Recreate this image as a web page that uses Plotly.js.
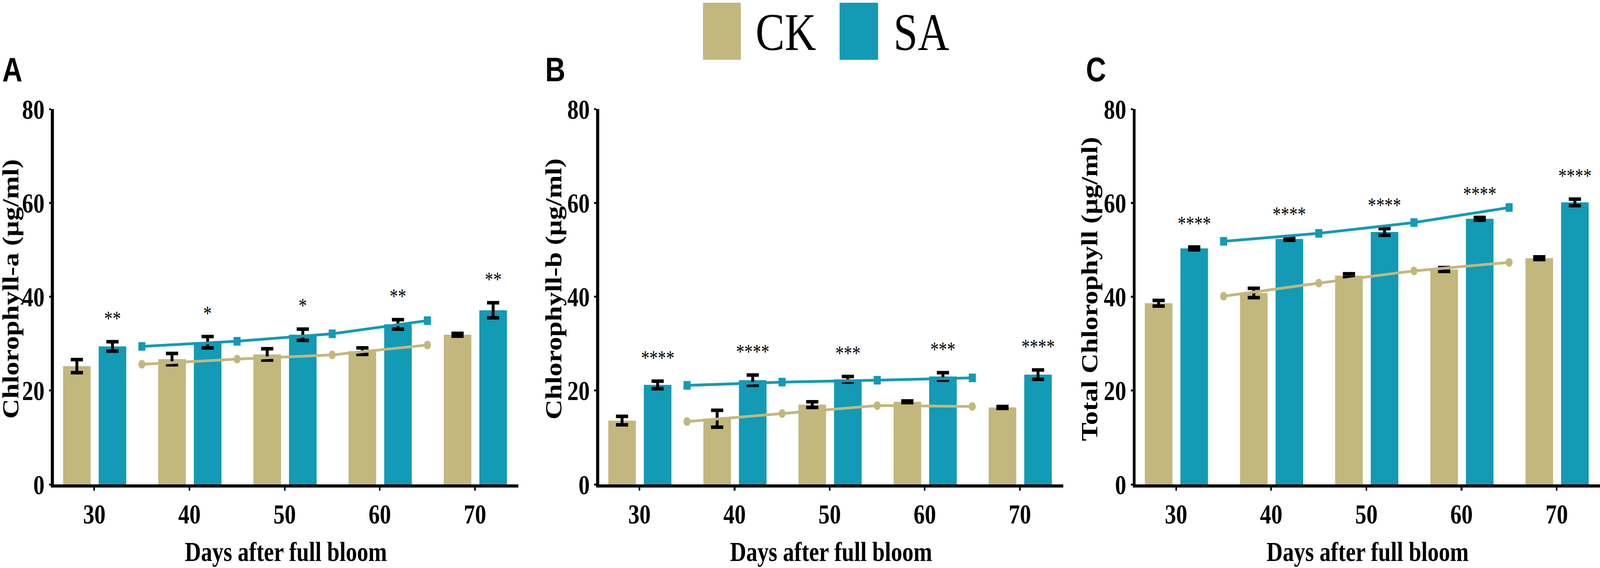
<!DOCTYPE html>
<html>
<head>
<meta charset="utf-8">
<script src="https://cdn.plot.ly/plotly-3.0.1.min.js"></script>
<style>
  html, body { margin: 0; padding: 0; background: #fff; overflow: hidden; }
  #chart { width: 4989px; height: 1454px; transform-origin: 0 0; }
</style>
</head>
<body>
<div id="chart"></div>
<script>
var days = [30, 40, 50, 60, 70];
var trendDays = [35, 45, 55, 65];
var groupNames = ['CK', 'SA'];

// Chlorophyll-a
var chlA_CK = [25.2, 26.7, 27.7, 28.4, 31.9];
var chlA_CK_err = [1.4, 1.2, 1.2, 0.7, 0.3];
var chlA_SA = [29.4, 30.3, 31.9, 34.1, 37.1];
var chlA_SA_err = [1.0, 1.2, 1.2, 1.0, 1.6];
var chlA_sig = ['**', '*', '*', '**', '**'];
var chlA_CK_trend = [25.6, 26.7, 27.6, 29.7];
var chlA_SA_trend = [29.4, 30.5, 32.1, 34.9];

// Chlorophyll-b
var chlB_CK = [13.6, 14.0, 17.0, 17.6, 16.4];
var chlB_CK_err = [0.9, 1.8, 0.6, 0.2, 0.2];
var chlB_SA = [21.2, 22.2, 22.4, 23.0, 23.4];
var chlB_SA_err = [0.8, 1.1, 0.6, 0.8, 1.0];
var chlB_sig = ['****', '****', '***', '***', '****'];
var chlB_CK_trend = [13.4, 15.1, 16.8, 16.6];
var chlB_SA_trend = [21.1, 21.8, 22.2, 22.7];

// Total chlorophyll
var chlT_CK = [38.6, 40.8, 44.5, 45.8, 48.2];
var chlT_CK_err = [0.6, 1.0, 0.4, 0.4, 0.3];
var chlT_SA = [50.3, 52.3, 53.8, 56.6, 60.1];
var chlT_SA_err = [0.3, 0.3, 0.7, 0.3, 0.7];
var chlT_sig = ['****', '****', '****', '****', '****'];
var chlT_CK_trend = [40.1, 42.9, 45.5, 47.3];
var chlT_SA_trend = [51.8, 53.5, 55.8, 59.0];

var yTicks = [0, 20, 40, 60, 80];

var CK_COLOR = '#C2B77D';
var SA_COLOR = '#139AB5';
var SERIF = 'Liberation Serif, Times New Roman, serif';
var SANS = 'Liberation Sans, Arial, sans-serif';

// figure is drawn at 4989 x 1454 and then squeezed into the real window
var W = 4989, H = 1454;
var BAR_W = 2.9;

var chartDiv = document.getElementById('chart');
var sx = (window.innerWidth || W) / W, sy = (window.innerHeight || H) / H;
chartDiv.style.transform = 'scale(' + sx + ',' + sy + ')';

function Panel(n, letter, title, ck, ckErr, sa, saErr, sig, ckTrend, saTrend) {
    this.xref = n === 1 ? 'x' : 'x' + n;
    this.yref = n === 1 ? 'y' : 'y' + n;
    this.letter = letter;
    this.title = title;
    this.ck = ck; this.ckErr = ckErr;
    this.sa = sa; this.saErr = saErr;
    this.sig = sig;
    this.ckTrend = ckTrend; this.saTrend = saTrend;
}

Panel.prototype.traces = function () {
    var errStyle = { type: 'data', visible: true, color: '#000', thickness: 9, width: 19 };
    return [
        {
            type: 'bar', name: groupNames[0], x: days, y: this.ck,
            width: BAR_W, offset: -3.28,
            marker: { color: CK_COLOR, line: { width: 0 } },
            error_y: Object.assign({ array: this.ckErr }, errStyle),
            xaxis: this.xref, yaxis: this.yref, showlegend: false
        },
        {
            type: 'bar', name: groupNames[1], x: days, y: this.sa,
            width: BAR_W, offset: 0.46,
            marker: { color: SA_COLOR, line: { width: 0 } },
            error_y: Object.assign({ array: this.saErr }, errStyle),
            xaxis: this.xref, yaxis: this.yref, showlegend: false
        },
        {
            type: 'scatter', mode: 'lines+markers', x: trendDays, y: this.ckTrend,
            line: { color: CK_COLOR, width: 7 },
            marker: { color: CK_COLOR, symbol: 'circle', size: 22 },
            xaxis: this.xref, yaxis: this.yref, showlegend: false
        },
        {
            type: 'scatter', mode: 'lines+markers', x: trendDays, y: this.saTrend,
            line: { color: SA_COLOR, width: 7 },
            marker: { color: SA_COLOR, symbol: 'square', size: 22 },
            xaxis: this.xref, yaxis: this.yref, showlegend: false
        }
    ];
};

// significance stars sit a fixed distance above each SA error bar
Panel.prototype.starNotes = function () {
    var notes = [];
    for (var i = 0; i < days.length; i++) {
        notes.push({
            xref: this.xref, yref: this.yref,
            x: days[i] + 0.46 + BAR_W / 2, y: this.sa[i] + this.saErr[i],
            text: this.sig[i], showarrow: false,
            xanchor: 'center', yanchor: 'bottom', yshift: 29,
            font: { family: SERIF, size: 52, color: '#000' }
        });
    }
    return notes;
};

var panels = [
    new Panel(1, 'A', 'Chlorophyll-a (µg/ml)', chlA_CK, chlA_CK_err, chlA_SA, chlA_SA_err, chlA_sig, chlA_CK_trend, chlA_SA_trend),
    new Panel(2, 'B', 'Chlorophyll-b (µg/ml)', chlB_CK, chlB_CK_err, chlB_SA, chlB_SA_err, chlB_sig, chlB_CK_trend, chlB_SA_trend),
    new Panel(3, 'C', 'Total Chlorophyll (µg/ml)', chlT_CK, chlT_CK_err, chlT_SA, chlT_SA_err, chlT_sig, chlT_CK_trend, chlT_SA_trend)
];

// panel placement, in pixels of the figure
var xDomains = [[167.9, 1616], [1867.9, 3315], [3540.9, 4989]];
var yDomain = [1 - 1240 / H, 1 - 279 / H];
var yTitleX = [34, 1727, 3399];
var letterX = [5, 1698, 3384];

var data = [];
var annotations = [];
var layout = {
    width: W, height: H,
    margin: { l: 0, r: 0, t: 0, b: 0 },
    paper_bgcolor: '#fff', plot_bgcolor: 'rgba(0,0,0,0)',
    barmode: 'overlay',
    showlegend: false,
    shapes: []
};

panels.forEach(function (p, k) {
    data = data.concat(p.traces());
    annotations = annotations.concat(p.starNotes());

    var xa = k === 0 ? 'xaxis' : 'xaxis' + (k + 1);
    var ya = k === 0 ? 'yaxis' : 'yaxis' + (k + 1);
    layout[xa] = {
        domain: [xDomains[k][0] / W, Math.min(1, xDomains[k][1] / W)],
        anchor: p.yref,
        range: [25.75, 74.55],
        tickmode: 'array', tickvals: days, ticktext: days.map(String),
        showline: true, linewidth: 8, linecolor: '#000',
        ticks: 'outside', ticklen: 8, tickwidth: 5, tickcolor: '#000',
        tickfont: { family: SERIF, size: 70, color: '#000', weight: 'bold' },
        showgrid: false, zeroline: false, fixedrange: true
    };
    layout[ya] = {
        domain: yDomain,
        anchor: p.xref,
        range: [0, 80],
        tickmode: 'array', tickvals: yTicks, ticktext: yTicks.map(String),
        showline: true, linewidth: 9, linecolor: '#000',
        ticks: 'outside', ticklen: 6, tickwidth: 5, tickcolor: '#000',
        tickfont: { family: SERIF, size: 70, color: '#000', weight: 'bold' },
        showgrid: false, zeroline: false, fixedrange: true
    };

    // axis titles
    annotations.push({
        xref: 'paper', yref: 'paper',
        x: yTitleX[k] / W, y: 1 - 740 / H,
        text: '<b>' + p.title + '</b>', textangle: -90, showarrow: false,
        xanchor: 'center', yanchor: 'middle',
        font: { family: SERIF, size: 71, color: '#000' }
    });
    annotations.push({
        xref: 'paper', yref: 'paper',
        x: (xDomains[k][0] + xDomains[k][1]) / 2 / W, y: 1 - 1412 / H,
        text: '<b>Days after full bloom</b>', showarrow: false,
        xanchor: 'center', yanchor: 'middle',
        font: { family: SERIF, size: 70, color: '#000' }
    });
    // panel letter
    annotations.push({
        xref: 'paper', yref: 'paper',
        x: letterX[k] / W, y: 1 - 178 / H,
        text: '<b>' + p.letter + '</b>', showarrow: false,
        xanchor: 'left', yanchor: 'middle',
        font: { family: SANS, size: 87, color: '#000' }
    });
});

// legend at the top
var legendBoxes = [[2192, 2310], [2618, 2738]];
var legendText = [2354, 2784];
var legendColors = [CK_COLOR, SA_COLOR];
groupNames.forEach(function (name, i) {
    layout.shapes.push({
        type: 'rect', xref: 'paper', yref: 'paper',
        x0: legendBoxes[i][0] / W, x1: legendBoxes[i][1] / W,
        y0: 1 - 153 / H, y1: 1 - 7 / H,
        fillcolor: legendColors[i], line: { width: 0 }
    });
    annotations.push({
        xref: 'paper', yref: 'paper',
        x: legendText[i] / W, y: 1 - 82 / H,
        text: name, showarrow: false,
        xanchor: 'left', yanchor: 'middle',
        font: { family: SERIF, size: 136, color: '#000' }
    });
});

layout.annotations = annotations;

Plotly.newPlot('chart', data, layout, { staticPlot: true });
</script>
</body>
</html>
